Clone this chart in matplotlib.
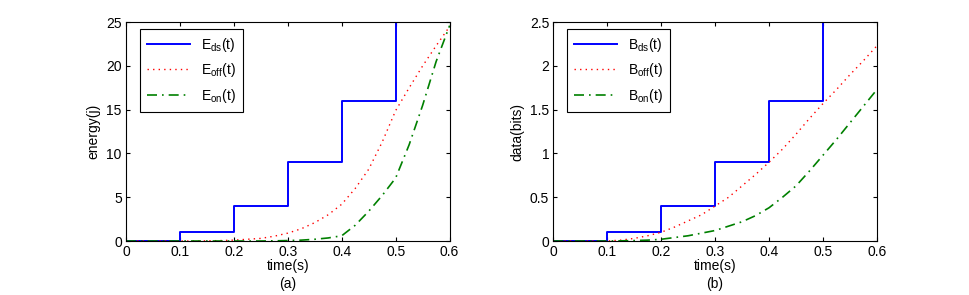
import matplotlib
matplotlib.use("Agg")
import matplotlib.pyplot as plt
from matplotlib.ticker import FuncFormatter

plt.rcParams["font.family"] = ["Liberation Sans", "DejaVu Sans"]
plt.rcParams["mathtext.fontset"] = "custom"
plt.rcParams["mathtext.rm"] = "Liberation Sans"
plt.rcParams["mathtext.it"] = "Liberation Sans"
plt.rcParams["font.size"] = 10

# step (dynamic scheduling) values
t_step = [0, 0.1, 0.2, 0.3, 0.4, 0.5, 0.6]
e_ds = [0, 1, 4, 9, 16, 25, 25]
b_ds = [0, 0.1, 0.4, 0.9, 1.6, 2.5, 2.5]

# smooth curves
t = [0, 0.025, 0.05, 0.075, 0.1, 0.125, 0.15, 0.175, 0.2, 0.225, 0.25, 0.275, 0.3,
     0.325, 0.35, 0.375, 0.4, 0.425, 0.45, 0.475, 0.5, 0.525, 0.55, 0.575, 0.6]
e_off = [0, 0, 0, 0, 0, 0, 0.02, 0.05, 0.1, 0.2, 0.3, 0.55, 0.9,
         1.4, 2.1, 3.0, 4.2, 6.0, 8.2, 11.3, 14.9, 17.5, 20.0, 22.3, 24.5]
e_on = [0, 0, 0, 0, 0, 0, 0, 0, 0, 0, 0, 0.02, 0.05,
        0.1, 0.2, 0.35, 0.6, 1.8, 3.4, 5.2, 7.2, 11.0, 15.5, 20.5, 24.6]
b_off = [0, 0, 0, 0, 0, 0.01, 0.03, 0.06, 0.1, 0.16, 0.23, 0.3, 0.4,
         0.5, 0.63, 0.76, 0.9, 1.05, 1.22, 1.4, 1.57, 1.73, 1.9, 2.06, 2.23]
b_on = [0, 0, 0, 0, 0, 0.002, 0.005, 0.01, 0.02, 0.04, 0.06, 0.09, 0.12,
        0.17, 0.22, 0.29, 0.38, 0.5, 0.63, 0.8, 0.98, 1.16, 1.35, 1.54, 1.73]

fig = plt.figure(figsize=(9.69, 2.95), dpi=100)
ax1 = fig.add_axes([0.130, 0.183, 0.334, 0.742])
ax2 = fig.add_axes([0.571, 0.183, 0.334, 0.742])

green = (0, 0.5, 0)


def draw(ax, ds, off, on, letter, ylab, ymax, yticks, sub):
    ax.step(t_step, ds, where="post", color="b", lw=1.4, label=sub + r"$_{\rm ds}$(t)")
    ax.plot(t, off, color="r", ls=(0, (1, 3)), lw=1.0, label=sub + r"$_{\rm off}$(t)")
    ax.plot(t, on, color=green, ls=(0, (6, 3, 1, 3)), lw=1.2, label=sub + r"$_{\rm on}$(t)")
    ax.set_xlim(0, 0.6)
    ax.set_ylim(0, ymax)
    ax.set_xticks([0, 0.1, 0.2, 0.3, 0.4, 0.5, 0.6])
    ax.set_yticks(yticks)
    ax.xaxis.set_major_formatter(FuncFormatter(lambda v, p: "%g" % v))
    ax.yaxis.set_major_formatter(FuncFormatter(lambda v, p: "%g" % v))
    ax.tick_params(direction="in", top=True, right=True, length=3, labelsize=10, pad=3)
    ax.set_xlabel("time(s)", fontsize=10, labelpad=0)
    ax.set_ylabel(ylab, fontsize=10, labelpad=4)
    ax.text(0.5, -0.165, letter, transform=ax.transAxes, ha="center", va="top", fontsize=10)
    leg = ax.legend(loc="upper left", bbox_to_anchor=(0.043, 0.97), borderaxespad=0,
                    fontsize=10, fancybox=False, edgecolor="k", framealpha=1,
                    handlelength=3.1, labelspacing=0.55, borderpad=0.5)
    leg.get_frame().set_linewidth(0.8)


draw(ax1, e_ds, e_off, e_on, "(a)", "energy(j)", 25, [0, 5, 10, 15, 20, 25], "E")
draw(ax2, b_ds, b_off, b_on, "(b)", "data(bits)", 2.5, [0, 0.5, 1, 1.5, 2, 2.5], "B")

fig.savefig("out.png", dpi=100)
